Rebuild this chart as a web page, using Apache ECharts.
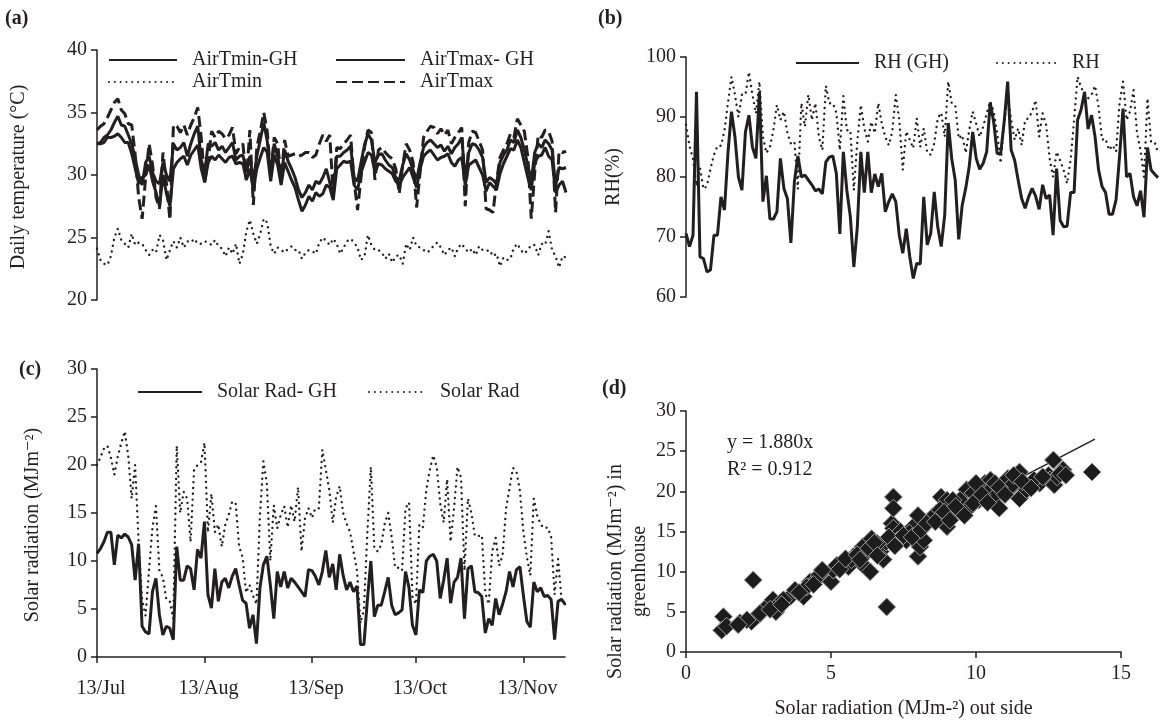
<!DOCTYPE html>
<html>
<head>
<meta charset="utf-8">
<script src="https://cdn.jsdelivr.net/npm/echarts@6/dist/echarts.min.js"></script>
<style>
  html, body { margin: 0; padding: 0; background: #fff; }
  #chart { width: 1163px; height: 721px; }
</style>
</head>
<body>
<div id="chart"></div>
<script>
// daily series, 13/Jul .. 25/Nov (136 days)
const airTminGH = [32.5,32.5,32.6,33,33,33.1,33.3,33,32.6,32.6,31.7,30.5,29.3,29.8,30,30.8,29.5,28.6,27.5,30,28.5,27.5,30.5,31,31.3,31.5,30.8,31.6,32,32.4,30.5,29.4,31,31.5,31.2,31.6,31.3,31,31.4,31.5,30.9,31,30.9,29.6,30.5,28.8,30.5,31.4,32.2,31.8,29.5,31.6,30.8,29.2,31,30.3,29.6,29,28,27.1,27.6,28.3,27.9,28.6,28.3,28.5,29.2,29,28,30.5,30.8,31.1,31,31.1,29.2,28.8,30.2,31,31.8,31.6,30.2,30.9,30.8,30.5,30.3,30.1,29.5,29.2,29.8,30.2,30.6,29.8,29,30.5,31.5,31.8,32,31.6,31.2,31.4,31.5,31.7,31,30.7,31.2,31.4,29.2,30.8,31,31.2,30.6,30,28.7,29.4,29.1,28.8,30.1,30.9,31.5,32.1,32,32.8,32.2,31,29.8,28.8,31,31.5,31.6,32.2,31.5,31.2,28.6,29.2,29.5,28.6];
const airTmaxGH = [32.5,32.6,33,33.2,33.6,34.2,34.7,34,33.9,33.2,32.5,31.3,30,29.2,31,31.5,30.2,29.5,29.3,31,30,29.5,32.5,32,32.2,32.6,31.5,32.5,33.3,33.9,31.2,30.2,32.5,32.3,32.6,32,32.3,31.8,32.2,32.6,31.2,31.5,31.6,30.2,31.5,29.5,31.5,32.8,34.2,32.7,30,32.5,31.5,29.8,32,31.1,30.5,29.8,28.8,28.2,28.6,29.2,28.8,29.5,29.3,29.8,30.5,29.4,28.4,31.5,31.5,31.8,32,32.3,29.8,29.5,31,32.4,33.3,32.8,31,31.6,31.7,31.2,30.8,30.6,29.8,29.6,30.8,31.7,31.2,30.4,29.6,31,32.2,32.6,32.8,32.5,32.2,32.4,31.9,32.3,31.7,32.2,32.5,33,29.6,31.8,32.5,32.4,32,31.4,29.4,29.8,29.6,29.3,31,31.6,32,32.8,32.6,33.6,33,32,30.8,29.5,31.8,32.5,32.2,32.8,32.5,32,29.1,30.6,30.5,30.6];
const airTmin = [24.1,23.2,22.9,22.8,23.5,25,25.7,24.8,24.5,24.2,25.3,24.4,24.6,24.5,24,23.6,24,23.8,25.2,24.8,23.2,24,24.7,24.2,25,24.2,24.7,24.6,24.9,24.5,24.5,24.7,24.6,24.4,24.8,24.3,24.1,23.5,24.2,23.7,24.5,22.9,23.7,25.5,26.4,25.3,24.5,25.3,26.5,26.2,24.3,23.7,24.2,24,23.8,24.1,24.3,24,24,23.3,23.8,24,23.9,23.7,24.6,25,24.7,24.4,24.9,24.5,23.7,24.2,24.7,24.9,24.6,24.2,23.2,23.5,25.2,24.4,24,24,23.8,23.3,23.7,23,23.5,23.6,22.9,24.5,24,25,24.3,24.2,24,23.8,24,24.4,24.6,24.2,23.6,24,24.2,23.5,24.2,24.5,24.1,23.8,24.1,23.6,24.3,24,23.9,24,23.5,23.7,22.7,23.4,23.2,23.3,24.2,24.5,24,23.7,24,24.4,24.4,23.6,24.5,24.4,25.5,24,23.5,22.6,23.5,23.4];
const airTmax = [33.6,33.9,34.1,34.6,35.2,35.8,36.1,35.2,34.9,34.1,34,31.6,28.2,26.5,29.8,32.5,30.8,28.2,27.3,31.8,29.3,26.4,34,33.9,33.4,34,33.2,34,34.6,35.4,33,29.5,31.2,33.5,33,33.5,33.3,32.9,33.2,33.8,31.7,32.2,32.5,29.6,33.6,27.6,32.2,33.5,35,33.5,30,33,32.5,29.8,32.8,31.5,31.6,31.7,31.5,31.6,31.8,31.8,31.4,31.6,32.5,33.2,32.7,33.2,28.4,32.2,32.1,32.5,32.8,33.2,29.5,27.2,29.8,32.2,33.6,33.4,29.6,32,32.2,31.8,31.5,31.3,30.5,28.5,30.8,32.5,32,31,27.4,30.2,33,33.5,33.9,33.8,33.3,33.7,33.2,33.6,32.5,33,33.4,33.8,27.5,32.6,33.5,33.4,32.7,32,27.3,27.2,27,29.5,31.4,32,32.5,33.3,33,34.5,34,33.5,31.5,26.5,30.2,33.2,33,33.6,33.5,32.7,27,31.9,31.8,31.9];

const rhGH = [70.6,68.4,70.3,94.2,66.7,66.4,64.2,64.5,70.3,70.3,76.7,74.5,84,90.9,86.7,80,77.8,87.5,90.3,85,83.1,94.2,75.9,80.2,73,73,74.2,83.1,78.1,76.4,69,79.2,83.5,80,80.3,79.5,78.7,77.7,78,77.2,82.5,83.3,83.5,80.6,70.5,84.2,77.8,73.4,65,71.7,84.2,77.4,84.2,77.4,80.5,78.4,80.6,74.2,75.9,77.2,75.9,70.3,67.3,71.4,66.7,63.1,65.6,65.5,76.7,68.7,70.6,77.5,71.7,68.4,73.7,89,83.1,79.5,69.6,75.3,78.1,81.7,87.5,83.1,81.3,82.3,84.2,92.4,89.2,83.9,83.9,89.2,95.9,84.5,82.8,79.5,76.4,74.8,76.7,78.1,76.8,74.6,78.7,76.4,77,70.3,81.4,72.8,71.7,71.8,77.4,77.4,89.5,91.2,94.2,88,90.3,86.7,81.2,78.4,77.4,73.8,73.8,76.2,83.4,91.4,80,80.6,76.7,75.2,77.7,73.3,84.9,81.2,80.5,79.9];
const rhOut = [88.7,85.2,83,78.5,81.5,78,78.5,81.4,83.7,85.2,85.2,87.7,92.3,96.7,93.7,90,93.7,93.7,97.5,93.7,90.6,95.9,86.7,84,85,87.8,92,89.5,90.9,87.3,85.6,85.9,78,92.3,88.4,93.7,89.5,92.3,86.7,84.5,95.2,92.3,92.3,90.7,84.5,93.5,87.8,87.8,77.8,85.9,92,88.1,85.9,89.2,87.3,92.3,88.9,86.7,85.3,87.6,93.7,89.5,81.2,87.6,86.2,84.8,89.8,85,88.1,84,83.7,85.6,89.8,90.7,86.7,95.9,92.3,92,86.4,87,84,87.8,90.9,88.9,86.7,88.4,90.6,92.6,90.9,87.3,82.3,88.9,93.7,89.5,86.2,88.1,85.3,89.5,89.8,90.9,92.8,86.7,90.6,88.7,83.1,80,84.2,82.8,81.2,78.9,82.8,89.5,96.7,95,93.7,93.1,93.7,95.2,91.7,86.2,86.4,84.5,85.3,84.2,92.3,95.9,89.5,90.9,94.5,87.3,84.5,80,93.1,85.9,85.9,84];

const solarGH = [10.8,11.3,12,13,13,9.6,12.7,12.4,12.8,12.5,11.7,8,11.8,3.2,2.6,2.4,6.8,8.2,4.4,2.3,3.2,3,1.8,11.5,8,8,9.5,9.2,7,11.2,10.3,14.1,6.5,5.1,9.2,5.8,7.8,8.2,7.2,8.4,9.2,7.5,5.9,5.6,3,4.4,1.4,7.2,9.6,10.5,7.5,4,8.9,7.3,8.9,7.2,8.2,7.8,7.3,6.8,6.3,9.1,9,8.4,7.5,8.9,11.1,8.3,9.7,7,10.7,8.5,7,7.8,6.8,7.4,1.3,1.3,6,10,4.2,5.4,5.4,6.8,8.3,5.4,4.4,4.6,4.9,8.9,7.2,3.3,2.3,7,6.7,10,10.5,10.7,10,6.1,8,10.3,5.6,7.8,8.3,10.3,4,9.2,9.5,6.8,6.7,6.3,2.5,4,3.3,6.1,4.4,5.5,6.8,8.9,7.3,9.1,9.4,6.4,3.7,3.1,7.8,6.8,7.2,6.3,6.4,6,1.8,5.8,6,5.5];
const solarOut = [20,20.8,21.7,22,20.8,19,20.9,22.3,23.5,21,16.5,20,12,6,4.3,9,13.5,15.7,9,8.3,6,5.8,4,22,15,17.2,16.5,12,19.5,20,20.3,22.3,13,17,13,13.8,11.5,13.8,14.8,16.2,16,11.5,10.4,6.7,7.5,6.4,5.5,14.7,20.4,18,10,15.8,13.4,14.8,15.7,13.5,15.8,14.1,17.7,11,14.4,15.5,14.5,15.5,15.5,21.6,19.5,17.4,14,16.7,17.8,15,13.9,13,11,9,3.5,5,13,19.8,11.3,11,11.7,13.9,15,12.5,9.3,9.3,9,15.5,16.1,6.3,5.5,13.8,13.5,17.4,19.5,21,19.8,16,14,18.5,12,15.5,19.8,18.7,9,16.5,15,12.6,12.6,12.7,6.7,5.5,11,12.4,9.5,10.6,15.5,17.6,19.7,19.3,17.3,13,10.4,8.5,16.5,14.7,13.8,13.4,13.5,12.5,6.5,10.2,6,5.5];

// panel (d) scatter
const scatterX = [1.29,1.23,1.4,1.86,2.32,2.44,2.26,2.78,3.0,3.1,3.24,3.6,3.76,4.05,4.28,4.5,4.6,5.0,5.08,5.4,5.6,5.77,6.06,6.1,6.4,6.35,6.7,6.8,6.9,7.1,7.15,7.15,7.15,6.92,7.4,7.6,7.84,8.0,8.0,8.07,8.2,8.4,8.64,8.8,9.0,9.0,9.2,9.33,9.56,9.68,9.9,10.1,10.3,10.5,10.5,10.7,10.8,11.1,11.3,11.5,11.5,11.75,12.2,12.5,12.55,12.67,12.7,13.0,14.0,5.2,5.7,6.2,6.6,7.3,7.7,8.5,8.76,9.45,9.8,10.65,11.2,12.0,12.8,2.1,2.55,3.36,4.16,4.7,12.9,11.3,10.0,9.2,
  5.3,5.5,5.9,6.0,6.3,6.5,6.6,7.0,7.2,7.5,7.8,8.1,8.3,8.6,8.9,9.1,9.3,9.6,9.9,10.2,10.4,10.8,11.0,11.6,11.9,12.3,13.1,3.9,4.4,1.8,2.9,3.3];
const scatterY = [4.4,2.7,3.2,3.65,8.96,4.4,3.8,5.6,6.5,5.0,6.1,6.9,7.7,6.9,8.75,9.0,9.6,8.75,10.2,11,10.6,11.9,11,13.1,14.1,10,12.5,11.5,13.7,16,15.4,19.3,17.9,5.6,15,13.9,15.6,17,11.9,13.1,13.9,16.4,17.3,19.3,18.9,15.6,17.3,17.7,18.5,20.2,19.8,18.9,21,21.4,20.2,19.5,17.9,21.6,20.8,22.4,19.1,20.2,21,22,21.4,23.9,20.8,22.7,22.4,10.8,11.5,12.3,13.5,13.9,14.8,16.8,17.7,18.9,18.1,21,20.6,21.4,21.8,4,4.8,6.5,8.1,10.2,22.2,22,21,18.9,
  10.3,11.6,12.1,11.5,12.9,13.6,12.0,14.3,13.2,14.5,14.3,15.2,16.0,16.2,17.4,16.4,18.1,17.0,18.5,19.6,18.6,20.5,19.6,21.2,20.4,21.8,22.0,7.4,8.4,3.4,5.3,5.9];
const slope = 1.880;

// tick labels
const monthNames = ['Jan','Feb','Mar','Apr','May','Jun','Jul','Aug','Sep','Oct','Nov','Dec'];
const days = [];
for (let i = 0; i < solarGH.length; i++) {
  const d = new Date(2015, 6, 13 + i);
  days.push(d.getDate() + '/' + monthNames[d.getMonth()]);
}
const isTick = (idx, val) => /^13\//.test(val);

const FONT = '"Liberation Serif", "DejaVu Serif", serif';
const INK = '#231f20';
const txt = { fontFamily: FONT, fontSize: 20, color: INK };

const solid = { color: INK, width: 3, type: 'solid' };
const dotted = { color: INK, width: 2.4, type: [0.01, 5.8], cap: 'round' };
const dashed = { color: INK, width: 3, type: [11, 5] };

function dayAxis(grid, show) {
  return {
    type: 'category', gridIndex: grid, data: days, boundaryGap: false,
    axisLine: { show: show, lineStyle: { color: INK, width: 1.5 } },
    axisTick: { show: show, interval: isTick, length: 6, lineStyle: { color: INK, width: 1.5 } },
    axisLabel: { show: show, interval: isTick, margin: 22, padding: [0, 0, 0, 8], ...txt },
    splitLine: { show: false }
  };
}
function valAxis(grid, min, max, step, name, gap, shift) {
  return {
    type: 'value', gridIndex: grid, min: min, max: max, interval: step,
    name: name, nameLocation: 'middle', nameGap: gap, nameRotate: 90,
    nameTextStyle: { ...txt, lineHeight: 24, padding: [0, shift, 0, 0] },
    axisLine: { show: true, lineStyle: { color: INK, width: 1.5 } },
    axisTick: { show: true, length: 6, lineStyle: { color: INK, width: 1.5 } },
    axisLabel: { margin: 10, ...txt },
    splitLine: { show: false }
  };
}
function legendAt(name, left, top, w) {
  return {
    data: [name], left: left, top: top, itemWidth: w, itemHeight: 14,
    padding: 0, selectedMode: false,
    itemStyle: { color: 'rgba(0,0,0,0)', borderWidth: 0, opacity: 0 },
    textStyle: { ...txt, padding: [0, 0, 0, 10] }
  };
}
function line(name, x, y, data, style) {
  return {
    name: name, type: 'line', xAxisIndex: x, yAxisIndex: y, data: data,
    symbol: 'none', lineStyle: style, itemStyle: { color: INK }
  };
}

const xLo = Math.min(...scatterX), xHi = Math.max(...scatterX);

const chart = echarts.init(document.getElementById('chart'));
chart.setOption({
  animation: false,
  backgroundColor: '#fff',
  grid: [
    { left: 97, top: 50, width: 469, height: 250 },
    { left: 686, top: 57, width: 472, height: 240 },
    { left: 97, top: 369, width: 468, height: 288 },
    { left: 686, top: 411, width: 435, height: 241 }
  ],
  xAxis: [
    dayAxis(0, false),
    dayAxis(1, false),
    dayAxis(2, true),
    {
      type: 'value', gridIndex: 3, min: 0, max: 15, interval: 5,
      name: 'Solar radiation (MJm-²) out side', nameLocation: 'middle', nameGap: 47,
      nameTextStyle: txt,
      axisLine: { show: true, lineStyle: { color: INK, width: 1.5 } },
      axisTick: { show: true, length: 6, lineStyle: { color: INK, width: 1.5 } },
      axisLabel: { margin: 12, ...txt },
      splitLine: { show: false }
    }
  ],
  yAxis: [
    valAxis(0, 20, 40, 5, 'Daily temperature (°C)', 66, 4),
    valAxis(1, 60, 100, 10, 'RH(%)', 60, 0),
    valAxis(2, 0, 30, 5, 'Solar radiation (MJm⁻²)', 52, 24),
    valAxis(3, 0, 30, 5, 'Solar radiation (MJm⁻²) in\ngreenhouse', 34, 80)
  ],
  legend: [
    legendAt('AirTmin-GH', 108, 50, 68),
    legendAt('AirTmax- GH', 335, 50, 69),
    legendAt('AirTmin', 108, 72, 68),
    legendAt('AirTmax', 335, 72, 69),
    legendAt('RH (GH)', 795, 53, 63),
    legendAt('RH', 996, 53, 60),
    legendAt('Solar Rad- GH', 137, 382, 64),
    legendAt('Solar Rad', 368, 382, 56)
  ],
  graphic: [
    { type: 'text', left: 5, top: 9, style: { text: '(a)', font: 'bold 20px ' + FONT, fill: INK } },
    { type: 'text', left: 598, top: 9, style: { text: '(b)', font: 'bold 20px ' + FONT, fill: INK } },
    { type: 'text', left: 19, top: 360, style: { text: '(c)', font: 'bold 20px ' + FONT, fill: INK } },
    { type: 'text', left: 602, top: 379, style: { text: '(d)', font: 'bold 20px ' + FONT, fill: INK } },
    { type: 'text', left: 727, top: 433, style: { text: 'y = ' + slope.toFixed(3) + 'x', font: '20px ' + FONT, fill: INK } },
    { type: 'text', left: 727, top: 460, style: { text: 'R² = 0.912', font: '20px ' + FONT, fill: INK } }
  ],
  series: [
    line('AirTmin-GH', 0, 0, airTminGH, solid),
    line('AirTmax- GH', 0, 0, airTmaxGH, solid),
    line('AirTmin', 0, 0, airTmin, dotted),
    line('AirTmax', 0, 0, airTmax, dashed),
    line('RH (GH)', 1, 1, rhGH, solid),
    line('RH', 1, 1, rhOut, dotted),
    line('Solar Rad- GH', 2, 2, solarGH, solid),
    line('Solar Rad', 2, 2, solarOut, dotted),
    {
      name: 'trend', type: 'line', xAxisIndex: 3, yAxisIndex: 3, symbol: 'none', z: 1,
      data: [[xLo, slope * xLo], [xHi + 0.1, slope * (xHi + 0.1)]],
      lineStyle: { color: INK, width: 1.5 }
    },
    {
      name: 'GH vs out', type: 'scatter', xAxisIndex: 3, yAxisIndex: 3, z: 3,
      data: scatterX.map((x, i) => [x, scatterY[i]]),
      symbol: 'diamond', symbolSize: 18,
      itemStyle: { color: '#1c1c1c', borderColor: '#a0a0a0', borderWidth: 1, opacity: 1 }
    }
  ]
});
</script>
</body>
</html>
